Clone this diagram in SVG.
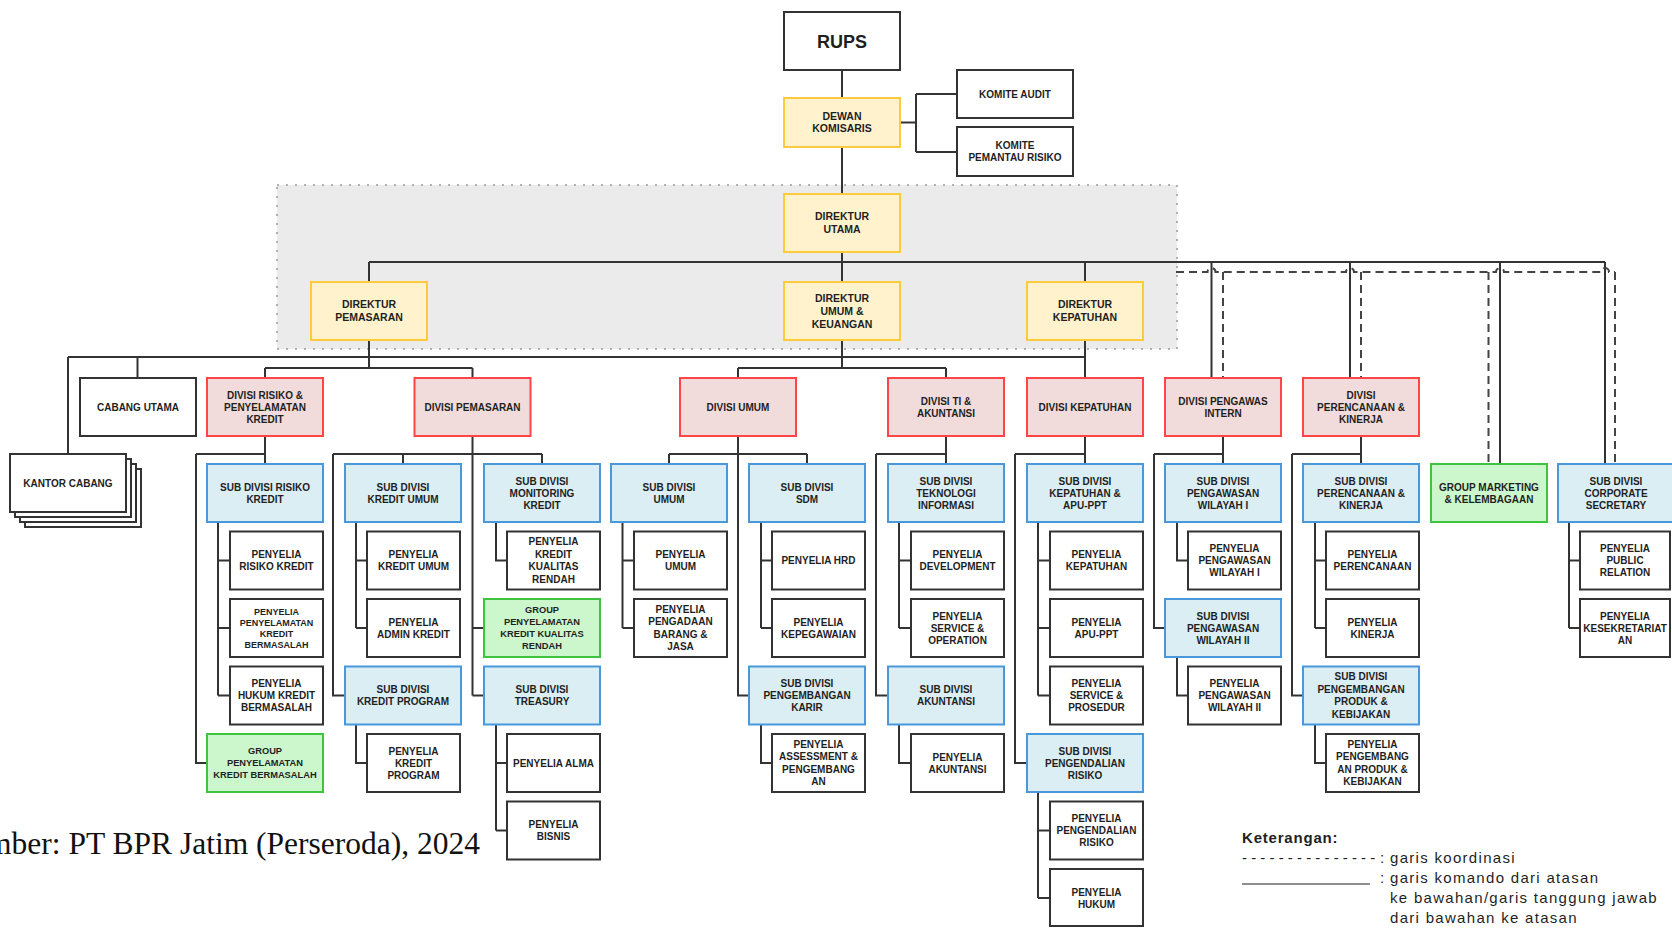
<svg xmlns="http://www.w3.org/2000/svg" width="1672" height="928" viewBox="0 0 1672 928">
<style>
.y{fill:#fff2cc;stroke:#ffcb3d;stroke-width:2}
.r{fill:#f2dcdb;stroke:#ff4545;stroke-width:2}
.b{fill:#dbeef4;stroke:#4a98dc;stroke-width:2}
.g{fill:#ccf7cc;stroke:#3ec43e;stroke-width:2}
.w{fill:#fff;stroke:#333;stroke-width:2}
.t{font-family:"Liberation Sans",Arial,sans-serif;font-weight:bold;font-size:10px;fill:#1f1f1f;text-anchor:middle}
.s8{font-size:9px}
.s9{font-size:9.3px}
.s105{font-size:10.5px}
.c{fill:none;stroke:#333;stroke-width:2}
.d{fill:none;stroke:#444;stroke-width:2;stroke-dasharray:8 5}
.lg{font-family:"Liberation Sans",Arial,sans-serif;font-size:15px;fill:#1f1f1f;letter-spacing:1.3px}
</style>
<rect x="0" y="0" width="1672" height="928" fill="#fff"/>
<rect x="277" y="185" width="900" height="164" fill="#ebebeb" stroke="#9a9a9a" stroke-width="1.5" stroke-dasharray="2 7"/>

<g id="connectors">
<path class="c" d="M842 70V98M842 147V194M900 122.5H916M916 94V152M916 94H957M916 152H957M842 252V282M369 262H1605M369 262V282M1085 262V282M1211.5 262V378M1350 262V378M1500 262V464M1605 262V464"/>
<path class="d" d="M1176 272H1207.5A4 4 0 0 1 1215.5 272H1346A4 4 0 0 1 1354 272H1496A4 4 0 0 1 1504 272H1601A4 4 0 0 1 1609 272H1615M1223 272V378M1361 272V378M1488.5 272V464M1615 272V464"/>
<path class="c" d="M369 340V368M265 368H472.5M265 368V378M472.5 368V378M68 357H1085M137.5 357V378M68 357V454M842 340V368M738 368H946M738 368V378M946 368V378M1085 340V378"/>
<path class="c" d="M265 436V464M196 454H265M196 454V763H207M218 522V695.5M218 560.5H230M218 628H230M218 695.5H230"/>
<path class="c" d="M472.5 436V695.5M333 454H542M403 454V464M542 454V464M333 454V695.5H345M356 522V628M356 560.5H367M356 628H367M356 725V763H367M472.5 628H484M472.5 695.5H484M496 522V560.5H507M496 725V830.5M496 763H507M496 830.5H507"/>
<path class="c" d="M738 436V695.5H749M669 454H807M669 454V464M807 454V464M622.5 522V628M622.5 560.5H634M622.5 628H634M761 522V628M761 560.5H772M761 628H772M761 725V763H772"/>
<path class="c" d="M946 436V464M876 454H946M876 454V695.5H888M899 522V628M899 560.5H911M899 628H911M899 725V763H911"/>
<path class="c" d="M1085 436V464M1015 454H1085M1015 454V763H1027M1038 522V695.5M1038 560.5H1050M1038 628H1050M1038 695.5H1050M1038 792V898M1038 830.5H1050M1038 898H1050"/>
<path class="c" d="M1223 436V464M1154 454H1223M1154 454V628H1165M1177 522V560.5H1188M1177 657V695.5H1188"/>
<path class="c" d="M1361 436V464M1292 454H1361M1292 454V695.5H1303M1315 522V628M1315 560.5H1326M1315 628H1326M1315 725V763H1326"/>
<path class="c" d="M1569 522V628M1569 560.5H1580M1569 628H1580"/>
</g>

<g id="rups"><rect class="w" x="784" y="12" width="116" height="58"/><text class="t" x="842" y="47.5" style="font-size:18px">RUPS</text></g>
<g id="dewan"><rect class="y" x="784" y="98" width="116" height="49"/><text class="t s105"><tspan x="842" y="120.3">DEWAN</tspan><tspan x="842" y="132.3">KOMISARIS</tspan></text></g>
<g id="komite-audit"><rect class="w" x="957" y="70" width="116" height="48"/><text class="t" x="1015" y="97.6">KOMITE AUDIT</text></g>
<g id="komite-pemantau"><rect class="w" x="957" y="127" width="116" height="49"/><text class="t"><tspan x="1015" y="149.1">KOMITE</tspan><tspan x="1015" y="161.1">PEMANTAU RISIKO</tspan></text></g>
<g id="dir-utama"><rect class="y" x="784" y="194" width="116" height="58"/><text class="t s105"><tspan x="842" y="220.3">DIREKTUR</tspan><tspan x="842" y="233.3">UTAMA</tspan></text></g>
<g id="dir-pemasaran"><rect class="y" x="311" y="282" width="116" height="58"/><text class="t s105"><tspan x="369" y="308.3">DIREKTUR</tspan><tspan x="369" y="321.3">PEMASARAN</tspan></text></g>
<g id="dir-umum"><rect class="y" x="784" y="282" width="116" height="58"/><text class="t s105"><tspan x="842" y="301.8">DIREKTUR</tspan><tspan x="842" y="314.8">UMUM &amp;</tspan><tspan x="842" y="327.8">KEUANGAN</tspan></text></g>
<g id="dir-kepatuhan"><rect class="y" x="1027" y="282" width="116" height="58"/><text class="t s105"><tspan x="1085" y="308.3">DIREKTUR</tspan><tspan x="1085" y="321.3">KEPATUHAN</tspan></text></g>

<g id="cabang-utama"><rect class="w" x="80" y="378" width="116" height="58"/><text class="t" x="138" y="410.6">CABANG UTAMA</text></g>
<g id="kantor-cabang"><rect class="w" x="25" y="469" width="116" height="58"/><rect class="w" x="20" y="464" width="116" height="58"/><rect class="w" x="15" y="459" width="116" height="58"/><rect class="w" x="10" y="454" width="116" height="58"/><text class="t" x="68" y="486.6">KANTOR CABANG</text></g>
<g id="div-risiko"><rect class="r" x="207" y="378" width="116" height="58"/><text class="t"><tspan x="265" y="398.6">DIVISI RISIKO &amp;</tspan><tspan x="265" y="410.6">PENYELAMATAN</tspan><tspan x="265" y="422.6">KREDIT</tspan></text></g>
<g id="div-pemasaran"><rect class="r" x="414.5" y="378" width="116" height="58"/><text class="t" x="472.5" y="410.6">DIVISI PEMASARAN</text></g>
<g id="div-umum"><rect class="r" x="680" y="378" width="116" height="58"/><text class="t" x="738" y="410.6">DIVISI UMUM</text></g>
<g id="div-ti"><rect class="r" x="888" y="378" width="116" height="58"/><text class="t"><tspan x="946" y="404.6">DIVISI TI &amp;</tspan><tspan x="946" y="416.6">AKUNTANSI</tspan></text></g>
<g id="div-kepatuhan"><rect class="r" x="1027" y="378" width="116" height="58"/><text class="t" x="1085" y="410.6">DIVISI KEPATUHAN</text></g>
<g id="div-pengawas"><rect class="r" x="1165" y="378" width="116" height="58"/><text class="t"><tspan x="1223" y="404.6">DIVISI PENGAWAS</tspan><tspan x="1223" y="416.6">INTERN</tspan></text></g>
<g id="div-perencanaan"><rect class="r" x="1303" y="378" width="116" height="58"/><text class="t"><tspan x="1361" y="398.6">DIVISI</tspan><tspan x="1361" y="410.6">PERENCANAAN &amp;</tspan><tspan x="1361" y="422.6">KINERJA</tspan></text></g>

<g id="sub-risiko"><rect class="b" x="207" y="464" width="116" height="58"/><text class="t"><tspan x="265" y="490.6">SUB DIVISI RISIKO</tspan><tspan x="265" y="502.6">KREDIT</tspan></text></g>
<g id="pen-risiko"><rect class="w" x="230" y="531.5" width="93" height="58"/><text class="t"><tspan x="276.5" y="558.1">PENYELIA</tspan><tspan x="276.5" y="570.1">RISIKO KREDIT</tspan></text></g>
<g id="pen-penyelamatan"><rect class="w" x="230" y="599" width="93" height="58"/><text class="t s8"><tspan x="276.5" y="614.7">PENYELIA</tspan><tspan x="276.5" y="625.7">PENYELAMATAN</tspan><tspan x="276.5" y="636.7">KREDIT</tspan><tspan x="276.5" y="647.7">BERMASALAH</tspan></text></g>
<g id="pen-hukum-kredit"><rect class="w" x="230" y="666.5" width="93" height="58"/><text class="t"><tspan x="276.5" y="687.1">PENYELIA</tspan><tspan x="276.5" y="699.1">HUKUM KREDIT</tspan><tspan x="276.5" y="711.1">BERMASALAH</tspan></text></g>
<g id="grp-penyelamatan"><rect class="g" x="207" y="734" width="116" height="58"/><text class="t s9"><tspan x="265" y="754.2">GROUP</tspan><tspan x="265" y="766.2">PENYELAMATAN</tspan><tspan x="265" y="778.2">KREDIT BERMASALAH</tspan></text></g>

<g id="sub-kredit-umum"><rect class="b" x="345" y="464" width="116" height="58"/><text class="t"><tspan x="403" y="490.6">SUB DIVISI</tspan><tspan x="403" y="502.6">KREDIT UMUM</tspan></text></g>
<g id="pen-kredit-umum"><rect class="w" x="367" y="531.5" width="93" height="58"/><text class="t"><tspan x="413.5" y="558.1">PENYELIA</tspan><tspan x="413.5" y="570.1">KREDIT UMUM</tspan></text></g>
<g id="pen-admin"><rect class="w" x="367" y="599" width="93" height="58"/><text class="t"><tspan x="413.5" y="625.6">PENYELIA</tspan><tspan x="413.5" y="637.6">ADMIN KREDIT</tspan></text></g>
<g id="sub-kredit-program"><rect class="b" x="345" y="666.5" width="116" height="58"/><text class="t"><tspan x="403" y="693.1">SUB DIVISI</tspan><tspan x="403" y="705.1">KREDIT PROGRAM</tspan></text></g>
<g id="pen-kredit-program"><rect class="w" x="367" y="734" width="93" height="58"/><text class="t"><tspan x="413.5" y="754.6">PENYELIA</tspan><tspan x="413.5" y="766.6">KREDIT</tspan><tspan x="413.5" y="778.6">PROGRAM</tspan></text></g>

<g id="sub-monitoring"><rect class="b" x="484" y="464" width="116" height="58"/><text class="t"><tspan x="542" y="484.6">SUB DIVISI</tspan><tspan x="542" y="496.6">MONITORING</tspan><tspan x="542" y="508.6">KREDIT</tspan></text></g>
<g id="pen-kualitas"><rect class="w" x="507" y="531.5" width="93" height="58"/><text class="t"><tspan x="553.5" y="545.35">PENYELIA</tspan><tspan x="553.5" y="557.85">KREDIT</tspan><tspan x="553.5" y="570.35">KUALITAS</tspan><tspan x="553.5" y="582.85">RENDAH</tspan></text></g>
<g id="grp-kualitas"><rect class="g" x="484" y="599" width="116" height="58"/><text class="t s9"><tspan x="542" y="613.2">GROUP</tspan><tspan x="542" y="625.2">PENYELAMATAN</tspan><tspan x="542" y="637.2">KREDIT KUALITAS</tspan><tspan x="542" y="649.2">RENDAH</tspan></text></g>
<g id="sub-treasury"><rect class="b" x="484" y="666.5" width="116" height="58"/><text class="t"><tspan x="542" y="693.1">SUB DIVISI</tspan><tspan x="542" y="705.1">TREASURY</tspan></text></g>
<g id="pen-alma"><rect class="w" x="507" y="734" width="93" height="58"/><text class="t" x="553.5" y="766.6">PENYELIA ALMA</text></g>
<g id="pen-bisnis"><rect class="w" x="507" y="801.5" width="93" height="58"/><text class="t"><tspan x="553.5" y="828.1">PENYELIA</tspan><tspan x="553.5" y="840.1">BISNIS</tspan></text></g>

<g id="sub-umum"><rect class="b" x="611" y="464" width="116" height="58"/><text class="t"><tspan x="669" y="490.6">SUB DIVISI</tspan><tspan x="669" y="502.6">UMUM</tspan></text></g>
<g id="pen-umum"><rect class="w" x="634" y="531.5" width="93" height="58"/><text class="t"><tspan x="680.5" y="558.1">PENYELIA</tspan><tspan x="680.5" y="570.1">UMUM</tspan></text></g>
<g id="pen-pengadaan"><rect class="w" x="634" y="599" width="93" height="58"/><text class="t"><tspan x="680.5" y="612.85">PENYELIA</tspan><tspan x="680.5" y="625.35">PENGADAAN</tspan><tspan x="680.5" y="637.85">BARANG &amp;</tspan><tspan x="680.5" y="650.35">JASA</tspan></text></g>

<g id="sub-sdm"><rect class="b" x="749" y="464" width="116" height="58"/><text class="t"><tspan x="807" y="490.6">SUB DIVISI</tspan><tspan x="807" y="502.6">SDM</tspan></text></g>
<g id="pen-hrd"><rect class="w" x="772" y="531.5" width="93" height="58"/><text class="t" x="818.5" y="564.1">PENYELIA HRD</text></g>
<g id="pen-kepegawaian"><rect class="w" x="772" y="599" width="93" height="58"/><text class="t"><tspan x="818.5" y="625.6">PENYELIA</tspan><tspan x="818.5" y="637.6">KEPEGAWAIAN</tspan></text></g>
<g id="sub-karir"><rect class="b" x="749" y="666.5" width="116" height="58"/><text class="t"><tspan x="807" y="687.1">SUB DIVISI</tspan><tspan x="807" y="699.1">PENGEMBANGAN</tspan><tspan x="807" y="711.1">KARIR</tspan></text></g>
<g id="pen-assessment"><rect class="w" x="772" y="734" width="93" height="58"/><text class="t"><tspan x="818.5" y="747.85">PENYELIA</tspan><tspan x="818.5" y="760.35">ASSESSMENT &amp;</tspan><tspan x="818.5" y="772.85">PENGEMBANG</tspan><tspan x="818.5" y="785.35">AN</tspan></text></g>

<g id="sub-ti"><rect class="b" x="888" y="464" width="116" height="58"/><text class="t"><tspan x="946" y="484.6">SUB DIVISI</tspan><tspan x="946" y="496.6">TEKNOLOGI</tspan><tspan x="946" y="508.6">INFORMASI</tspan></text></g>
<g id="pen-development"><rect class="w" x="911" y="531.5" width="93" height="58"/><text class="t"><tspan x="957.5" y="558.1">PENYELIA</tspan><tspan x="957.5" y="570.1">DEVELOPMENT</tspan></text></g>
<g id="pen-service-op"><rect class="w" x="911" y="599" width="93" height="58"/><text class="t"><tspan x="957.5" y="619.6">PENYELIA</tspan><tspan x="957.5" y="631.6">SERVICE &amp;</tspan><tspan x="957.5" y="643.6">OPERATION</tspan></text></g>
<g id="sub-akuntansi"><rect class="b" x="888" y="666.5" width="116" height="58"/><text class="t"><tspan x="946" y="693.1">SUB DIVISI</tspan><tspan x="946" y="705.1">AKUNTANSI</tspan></text></g>
<g id="pen-akuntansi"><rect class="w" x="911" y="734" width="93" height="58"/><text class="t"><tspan x="957.5" y="760.6">PENYELIA</tspan><tspan x="957.5" y="772.6">AKUNTANSI</tspan></text></g>

<g id="sub-kepatuhan"><rect class="b" x="1027" y="464" width="116" height="58"/><text class="t"><tspan x="1085" y="484.6">SUB DIVISI</tspan><tspan x="1085" y="496.6">KEPATUHAN &amp;</tspan><tspan x="1085" y="508.6">APU-PPT</tspan></text></g>
<g id="pen-kepatuhan"><rect class="w" x="1050" y="531.5" width="93" height="58"/><text class="t"><tspan x="1096.5" y="558.1">PENYELIA</tspan><tspan x="1096.5" y="570.1">KEPATUHAN</tspan></text></g>
<g id="pen-apu"><rect class="w" x="1050" y="599" width="93" height="58"/><text class="t"><tspan x="1096.5" y="625.6">PENYELIA</tspan><tspan x="1096.5" y="637.6">APU-PPT</tspan></text></g>
<g id="pen-prosedur"><rect class="w" x="1050" y="666.5" width="93" height="58"/><text class="t"><tspan x="1096.5" y="687.1">PENYELIA</tspan><tspan x="1096.5" y="699.1">SERVICE &amp;</tspan><tspan x="1096.5" y="711.1">PROSEDUR</tspan></text></g>
<g id="sub-pengendalian"><rect class="b" x="1027" y="734" width="116" height="58"/><text class="t"><tspan x="1085" y="754.6">SUB DIVISI</tspan><tspan x="1085" y="766.6">PENGENDALIAN</tspan><tspan x="1085" y="778.6">RISIKO</tspan></text></g>
<g id="pen-pengendalian"><rect class="w" x="1050" y="801.5" width="93" height="58"/><text class="t"><tspan x="1096.5" y="822.1">PENYELIA</tspan><tspan x="1096.5" y="834.1">PENGENDALIAN</tspan><tspan x="1096.5" y="846.1">RISIKO</tspan></text></g>
<g id="pen-hukum"><rect class="w" x="1050" y="869" width="93" height="57"/><text class="t"><tspan x="1096.5" y="895.6">PENYELIA</tspan><tspan x="1096.5" y="907.6">HUKUM</tspan></text></g>

<g id="sub-wil1"><rect class="b" x="1165" y="464" width="116" height="58"/><text class="t"><tspan x="1223" y="484.6">SUB DIVISI</tspan><tspan x="1223" y="496.6">PENGAWASAN</tspan><tspan x="1223" y="508.6">WILAYAH I</tspan></text></g>
<g id="pen-wil1"><rect class="w" x="1188" y="531.5" width="93" height="58"/><text class="t"><tspan x="1234.5" y="552.1">PENYELIA</tspan><tspan x="1234.5" y="564.1">PENGAWASAN</tspan><tspan x="1234.5" y="576.1">WILAYAH I</tspan></text></g>
<g id="sub-wil2"><rect class="b" x="1165" y="599" width="116" height="58"/><text class="t"><tspan x="1223" y="619.6">SUB DIVISI</tspan><tspan x="1223" y="631.6">PENGAWASAN</tspan><tspan x="1223" y="643.6">WILAYAH II</tspan></text></g>
<g id="pen-wil2"><rect class="w" x="1188" y="666.5" width="93" height="58"/><text class="t"><tspan x="1234.5" y="687.1">PENYELIA</tspan><tspan x="1234.5" y="699.1">PENGAWASAN</tspan><tspan x="1234.5" y="711.1">WILAYAH II</tspan></text></g>

<g id="sub-perencanaan"><rect class="b" x="1303" y="464" width="116" height="58"/><text class="t"><tspan x="1361" y="484.6">SUB DIVISI</tspan><tspan x="1361" y="496.6">PERENCANAAN &amp;</tspan><tspan x="1361" y="508.6">KINERJA</tspan></text></g>
<g id="pen-perencanaan"><rect class="w" x="1326" y="531.5" width="93" height="58"/><text class="t"><tspan x="1372.5" y="558.1">PENYELIA</tspan><tspan x="1372.5" y="570.1">PERENCANAAN</tspan></text></g>
<g id="pen-kinerja"><rect class="w" x="1326" y="599" width="93" height="58"/><text class="t"><tspan x="1372.5" y="625.6">PENYELIA</tspan><tspan x="1372.5" y="637.6">KINERJA</tspan></text></g>
<g id="sub-produk"><rect class="b" x="1303" y="666.5" width="116" height="58"/><text class="t"><tspan x="1361" y="680.35">SUB DIVISI</tspan><tspan x="1361" y="692.85">PENGEMBANGAN</tspan><tspan x="1361" y="705.35">PRODUK &amp;</tspan><tspan x="1361" y="717.85">KEBIJAKAN</tspan></text></g>
<g id="pen-produk"><rect class="w" x="1326" y="734" width="93" height="58"/><text class="t"><tspan x="1372.5" y="747.85">PENYELIA</tspan><tspan x="1372.5" y="760.35">PENGEMBANG</tspan><tspan x="1372.5" y="772.85">AN PRODUK &amp;</tspan><tspan x="1372.5" y="785.35">KEBIJAKAN</tspan></text></g>

<g id="grp-marketing"><rect class="g" x="1431" y="464" width="116" height="58"/><text class="t"><tspan x="1489" y="490.6">GROUP MARKETING</tspan><tspan x="1489" y="502.6">&amp; KELEMBAGAAN</tspan></text></g>
<g id="sub-corsec"><rect class="b" x="1558" y="464" width="116" height="58"/><text class="t"><tspan x="1616" y="484.6">SUB DIVISI</tspan><tspan x="1616" y="496.6">CORPORATE</tspan><tspan x="1616" y="508.6">SECRETARY</tspan></text></g>
<g id="pen-pr"><rect class="w" x="1580" y="531.5" width="90" height="58"/><text class="t"><tspan x="1625" y="552.1">PENYELIA</tspan><tspan x="1625" y="564.1">PUBLIC</tspan><tspan x="1625" y="576.1">RELATION</tspan></text></g>
<g id="pen-sekretariat"><rect class="w" x="1580" y="599" width="90" height="58"/><text class="t"><tspan x="1625" y="619.6">PENYELIA</tspan><tspan x="1625" y="631.6">KESEKRETARIAT</tspan><tspan x="1625" y="643.6">AN</tspan></text></g>

<text x="480" y="854" text-anchor="end" style="font-family:'Liberation Serif','Times New Roman',serif;font-size:31.5px;fill:#111">Sumber: PT BPR Jatim (Perseroda), 2024</text>

<g id="legend">
<text class="lg" x="1242" y="843" style="font-weight:bold;letter-spacing:0.8px">Keterangan:</text>
<text class="lg" x="1242" y="863" style="letter-spacing:0px">- - - - - - - - - - - - - - -</text>
<text class="lg" x="1380" y="863">:</text>
<text class="lg" x="1390" y="863">garis koordinasi</text>
<line x1="1242" y1="884" x2="1370" y2="884" stroke="#1f1f1f" stroke-width="1.2"/>
<text class="lg" x="1380" y="883">:</text>
<text class="lg" x="1390" y="883">garis komando dari atasan</text>
<text class="lg" x="1390" y="903">ke bawahan/garis tanggung jawab</text>
<text class="lg" x="1390" y="923">dari bawahan ke atasan</text>
</g>
</svg>
